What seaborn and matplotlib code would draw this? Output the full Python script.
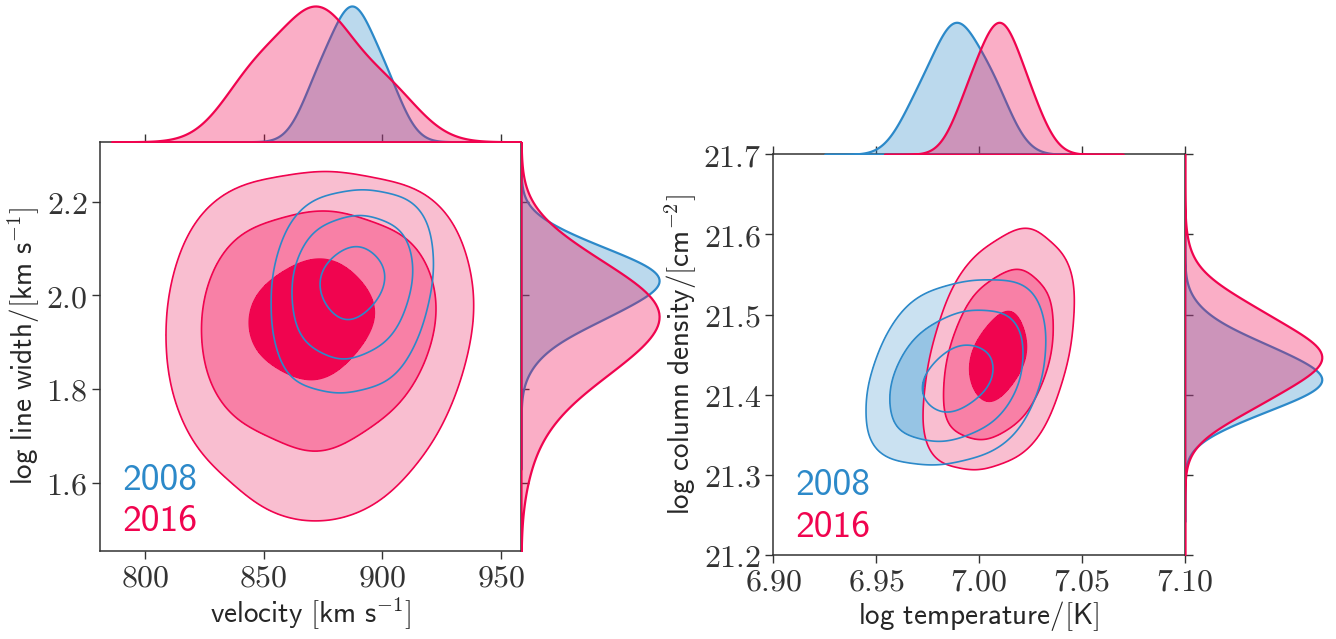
import matplotlib
matplotlib.use("Agg")
import matplotlib.pyplot as plt
from matplotlib.ticker import FixedLocator, FuncFormatter
import pandas as pd
import seaborn as sns

# ---------------------------------------------------------------------------
# Weighted representative samples for each epoch.
# Left panel: velocity [km/s] vs log line width; right panel: log T vs log N.
# ---------------------------------------------------------------------------
vel_2008 = [875.4, 889.0, 902.6, 873.9, 887.5, 901.1, 872.2, 885.8, 899.4, 870.6, 884.2, 897.8]
lw_2008 = [2.106, 2.106, 2.106, 2.036, 2.036, 2.036, 1.961, 1.961, 1.961, 1.886, 1.886, 1.886]
kin_w_2008 = [0.20, 0.40, 0.20, 0.50, 1.00, 0.50, 0.28, 0.55, 0.28, 0.06, 0.12, 0.06]

vel_2016 = [848.0, 874.5, 901.5, 847.0, 873.5, 902.5, 845.7, 872.2, 900.5,
            846.5, 872.5, 898.0, 858.0, 875.0, 892.0]
lw_2016 = [2.075, 2.075, 2.075, 1.970, 1.970, 1.970, 1.865, 1.865, 1.865,
           1.760, 1.760, 1.760, 1.645, 1.645, 1.645]
kin_w_2016 = [0.22, 0.45, 0.20, 0.55, 1.00, 0.45, 0.40, 0.62, 0.26,
              0.12, 0.20, 0.10, 0.035, 0.06, 0.025]

logT_2008 = [6.9750, 6.9920, 7.0090, 6.9730, 6.9900, 7.0070, 6.9710, 6.9880, 7.0050, 6.9690, 6.9860, 7.0030]
logN_2008 = [21.493, 21.493, 21.493, 21.455, 21.455, 21.455, 21.416, 21.416, 21.416, 21.377, 21.377, 21.377]
th_w_2008 = [0.04, 0.10, 0.10, 0.18, 0.50, 0.40, 0.42, 1.00, 0.50, 0.25, 0.42, 0.15]

logT_2016 = [7.0044, 7.0182, 7.0320, 7.0003, 7.0141, 7.0279, 6.9962, 7.0100, 7.0238, 6.9921, 7.0059, 7.0197]
logN_2016 = [21.557, 21.557, 21.557, 21.502, 21.502, 21.502, 21.447, 21.447, 21.447, 21.392, 21.392, 21.392]
th_w_2016 = [0.01, 0.05, 0.01, 0.22, 0.50, 0.20, 0.50, 1.00, 0.45, 0.28, 0.48, 0.18]

vel_ticks = [800, 850, 900, 950]
lw_ticks = [1.6, 1.8, 2.0, 2.2]
logT_ticks = [6.90, 6.95, 7.00, 7.05, 7.10]
logN_ticks = [21.2, 21.3, 21.4, 21.5, 21.6, 21.7]

kin08 = pd.DataFrame({"x": vel_2008, "y": lw_2008, "w": kin_w_2008})
kin16 = pd.DataFrame({"x": vel_2016, "y": lw_2016, "w": kin_w_2016})
th08 = pd.DataFrame({"x": logT_2008, "y": logN_2008, "w": th_w_2008})
th16 = pd.DataFrame({"x": logT_2016, "y": logN_2016, "w": th_w_2016})

# ---------------------------------------------------------------------------
# Style
# ---------------------------------------------------------------------------
BLUE = "#2c89c9"
PINK = "#f0044f"
BLUE_FILLS = ["#cae1f1", "#96c4e4", "#2c89c9"]
PINK_FILLS = ["#f9bed0", "#f880a6", "#f0044f"]
FILL_LEVELS = [0.01, 0.12, 0.6, 1.0]
LINE_LEVELS = [0.01, 0.12, 0.6]
INK = "#333333"

sns.set_theme(style="ticks")
plt.rcParams.update({
    "font.family": ["DejaVu Sans"],
    "mathtext.fontset": "cm",
    "axes.edgecolor": INK,
    "axes.linewidth": 1.1,
    "xtick.color": INK,
    "ytick.color": INK,
})

fig = plt.figure(figsize=(13.36, 6.39), dpi=100)
W, H = 1336.0, 639.0


def rect(x0, y_top, x1, y_bot):
    """Axes rectangle from pixel edges (origin at top-left)."""
    return [x0 / W, 1 - y_bot / H, (x1 - x0) / W, (y_bot - y_top) / H]


def sf(text):
    return r"$\mathsf{" + text + "}$"


def style_main(ax, xlim, ylim, xticks, yticks, xfmt, yfmt):
    ax.set_xlim(xlim)
    ax.set_ylim(ylim)
    ax.xaxis.set_major_locator(FixedLocator(xticks))
    ax.yaxis.set_major_locator(FixedLocator(yticks))
    ax.xaxis.set_major_formatter(FuncFormatter(lambda v, p: "$" + format(v, xfmt) + "$"))
    ax.yaxis.set_major_formatter(FuncFormatter(lambda v, p: "$" + format(v, yfmt) + "$"))
    ax.tick_params(which="major", direction="out", length=5.5, width=1.0,
                   top=True, right=True, labeltop=False, labelright=False,
                   labelsize=23, pad=3, colors=INK)
    ax.set_xlabel("")
    ax.set_ylabel("")
    for s in ax.spines.values():
        s.set_visible(True)
        s.set_color(INK)
        s.set_linewidth(1.1)


def joint(ax, d08, d16, bw08, bw16):
    c08 = dict(data=d08, x="x", y="y", weights="w", bw_method=bw08, ax=ax)
    c16 = dict(data=d16, x="x", y="y", weights="w", bw_method=bw16, ax=ax)
    sns.kdeplot(levels=FILL_LEVELS, fill=True, color=BLUE, colors=BLUE_FILLS, **c08)
    sns.kdeplot(levels=FILL_LEVELS, fill=True, color=PINK, colors=PINK_FILLS, **c16)
    sns.kdeplot(levels=LINE_LEVELS, fill=False, color=PINK, colors=[PINK],
                linewidths=1.2, **c16)
    sns.kdeplot(levels=LINE_LEVELS, fill=False, color=BLUE, colors=[BLUE],
                linewidths=1.2, **c08)


def marginal(r, d, bw, color, orient, lim):
    ax = fig.add_axes(r)
    kw = dict(data=d, weights="w", bw_method=bw, cut=4, fill=True, alpha=0.32,
              color=color, linewidth=1.6, ax=ax)
    if orient == "x":
        sns.kdeplot(x="x", **kw)
        ax.set_xlim(lim)
        ax.set_ylim(0, ax.dataLim.y1 * 1.05)
    else:
        sns.kdeplot(y="y", **kw)
        ax.set_ylim(lim)
        ax.set_xlim(0, ax.dataLim.x1 * 1.05)
    ax.axis("off")
    return ax


def year_labels(ax, x, y08, y16):
    ax.text(x, y08, "2008", transform=ax.transAxes, color=BLUE, fontsize=27,
            family="cmss10", va="baseline")
    ax.text(x, y16, "2016", transform=ax.transAxes, color=PINK, fontsize=27,
            family="cmss10", va="baseline")


# ---------------------------------------------------------------------------
# Left: kinematics
# ---------------------------------------------------------------------------
vel_lim = (780.8, 958.5)
lw_lim = (1.454, 2.328)
axL = fig.add_axes(rect(99.7, 141.7, 521.0, 551.0))
joint(axL, kin08, kin16, 0.75, 0.70)
style_main(axL, vel_lim, lw_lim, vel_ticks, lw_ticks, ".0f", ".1f")
axL.set_xlabel(sf(r"velocity\ [km\ s") + r"$^{-1}$" + sf("]"), fontsize=21, labelpad=1)
axL.set_ylabel(sf(r"log\ line\ width/[km\ s") + r"$^{-1}$" + sf("]"), fontsize=21, labelpad=3)
year_labels(axL, 0.053, 0.149, 0.050)

top_L = rect(99.7, -0.8, 521.0, 141.7)
right_L = rect(521.0, 141.7, 666.0, 551.0)
marginal(top_L, kin08, 0.75, BLUE, "x", vel_lim)
marginal(top_L, kin16, 0.70, PINK, "x", vel_lim)
marginal(right_L, kin08, 0.75, BLUE, "y", lw_lim)
marginal(right_L, kin16, 0.70, PINK, "y", lw_lim)

# ---------------------------------------------------------------------------
# Right: temperature / column density
# ---------------------------------------------------------------------------
T_lim = (6.90, 7.10)
N_lim = (21.2, 21.7)
axR = fig.add_axes(rect(773.4, 154.3, 1184.7, 555.0))
joint(axR, th08, th16, 0.75, 0.75)
style_main(axR, T_lim, N_lim, logT_ticks, logN_ticks, ".2f", ".1f")
axR.set_xlabel(sf(r"log\ temperature/[K]"), fontsize=21, labelpad=1)
axR.set_ylabel(sf(r"log\ column\ density/[cm") + r"$^{-2}$" + sf("]"), fontsize=21, labelpad=3)
year_labels(axR, 0.0545, 0.150, 0.046)

top_R = rect(773.4, 15.7, 1184.7, 154.3)
right_R = rect(1184.7, 154.3, 1328.6, 555.0)
marginal(top_R, th08, 0.75, BLUE, "x", T_lim)
marginal(top_R, th16, 0.75, PINK, "x", T_lim)
marginal(right_R, th08, 0.75, BLUE, "y", N_lim)
marginal(right_R, th16, 0.75, PINK, "y", N_lim)

fig.savefig("out.png", dpi=100)
